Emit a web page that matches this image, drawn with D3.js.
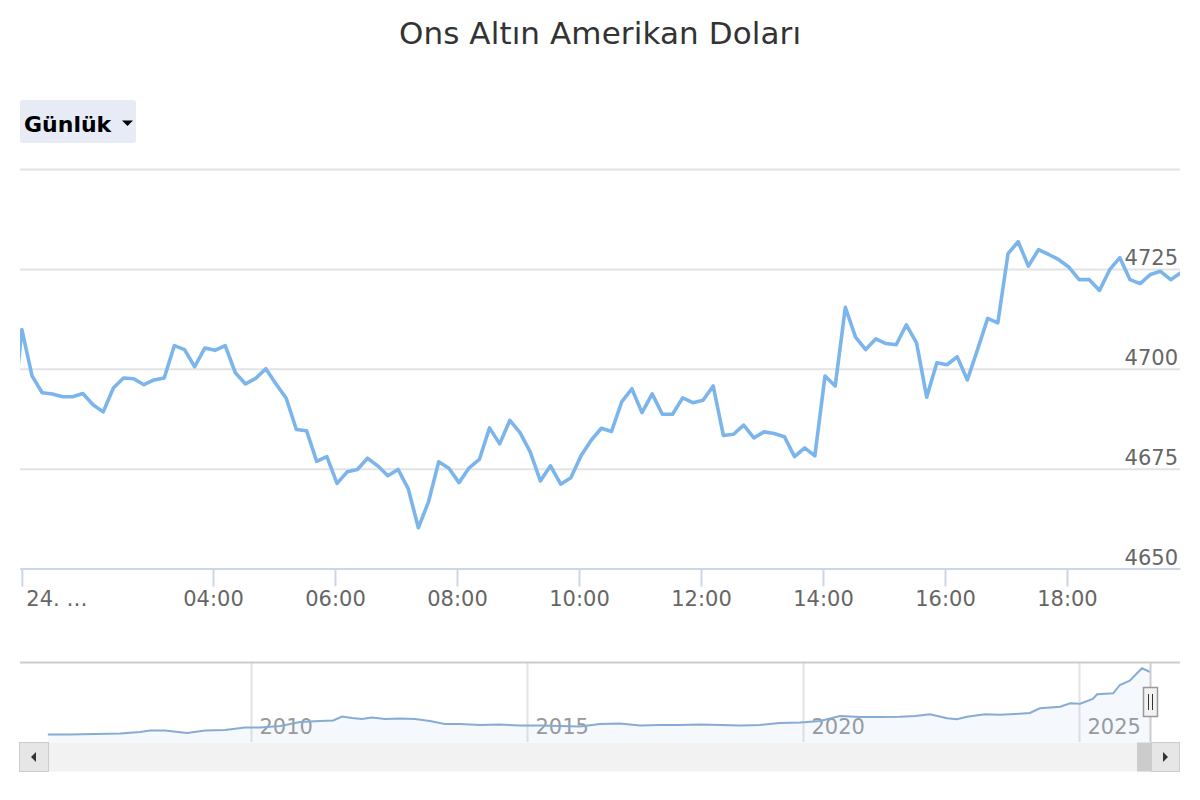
<!DOCTYPE html>
<html>
<head>
<meta charset="utf-8">
<script src="https://cdn.jsdelivr.net/npm/d3@7"></script>
<style>
  html, body { margin: 0; padding: 0; background: #ffffff; }
  svg { display: block; font-family: "DejaVu Sans", sans-serif; }
</style>
</head>
<body>
<svg id="chart" width="1200" height="800"></svg>
<script>
// ---------------- DATA ----------------
const chartTitle = "Ons Altın Amerikan Doları";
const rangeButtonLabel = "Günlük";

// Intraday prices, 10-minute steps (first value lies just left of the visible area)
const seriesStart = "2026-01-24T00:42:00";
const seriesStepMinutes = 10;
const priceValues = [
  4685.0,
  4709.8, 4698.2, 4694.0, 4693.7, 4693.0, 4693.0, 4693.8, 4691.0, 4689.2, 4695.2,
  4697.7, 4697.5, 4696.0, 4697.2, 4697.7, 4705.8, 4704.8, 4700.5, 4705.2, 4704.6,
  4705.8, 4699.0, 4696.2, 4697.6, 4700.0, 4696.2, 4692.6, 4684.8, 4684.5, 4676.8,
  4678.0, 4671.3, 4674.2, 4674.8, 4677.6, 4675.7, 4673.2, 4674.8, 4670.0, 4660.2,
  4666.7, 4676.7, 4675.1, 4671.5, 4675.2, 4677.3, 4685.2, 4681.2, 4687.1, 4684.0,
  4679.2, 4671.9, 4675.7, 4671.1, 4672.7, 4678.2, 4682.1, 4685.1, 4684.3, 4691.7,
  4695.0, 4689.0, 4693.7, 4688.6, 4688.6, 4692.7, 4691.5, 4692.1, 4695.7, 4683.3,
  4683.6, 4685.9, 4682.7, 4684.2, 4683.8, 4683.0, 4678.0, 4680.2, 4678.2, 4698.2,
  4695.7, 4715.4, 4707.9, 4704.8, 4707.5, 4706.3, 4706.0, 4711.0, 4706.5, 4692.9,
  4701.5, 4701.0, 4703.0, 4697.2, 4704.8, 4712.6, 4711.5, 4728.8, 4731.8, 4725.7,
  4729.8, 4728.6, 4727.3, 4725.4, 4722.3, 4722.3, 4719.6, 4724.8, 4727.8, 4722.3,
  4721.3, 4723.6, 4724.4, 4722.3, 4724.0
];

// y axis ticks (top one has no label)
const yTickValues = [4650, 4675, 4700, 4725, 4750];
const yTickLabels = ["4650", "4675", "4700", "4725", ""];

// x axis ticks
const xTickTimes = ["2026-01-24T00:52:00", "2026-01-24T04:00:00", "2026-01-24T06:00:00",
  "2026-01-24T08:00:00", "2026-01-24T10:00:00", "2026-01-24T12:00:00",
  "2026-01-24T14:00:00", "2026-01-24T16:00:00", "2026-01-24T18:00:00"];
const xTickLabels = ["24. …", "04:00", "06:00", "08:00", "10:00", "12:00", "14:00", "16:00", "18:00"];
const xDomainTimes = ["2026-01-24T00:50:10", "2026-01-24T19:51:10"];

// Navigator (long-term history)
const navYears = [2006.32, 2006.72, 2007.17, 2007.63, 2007.99, 2008.17, 2008.44, 2008.84, 2009.17, 2009.53,
  2009.89, 2010.16, 2010.53, 2010.89, 2011.25, 2011.49, 2011.65, 2011.83, 2012.01, 2012.19,
  2012.43, 2012.70, 2012.97, 2013.24, 2013.51, 2013.79, 2014.15, 2014.51, 2014.87, 2015.24,
  2015.60, 2015.96, 2016.32, 2016.68, 2017.05, 2017.41, 2017.77, 2018.13, 2018.50, 2018.86,
  2019.22, 2019.58, 2019.95, 2020.31, 2020.67, 2021.03, 2021.40, 2021.76, 2022.03, 2022.30,
  2022.61, 2022.79, 2022.97, 2023.30, 2023.57, 2023.84, 2024.11, 2024.29, 2024.66, 2024.84,
  2025.02, 2025.25, 2025.33, 2025.62, 2025.74, 2025.92, 2026.14, 2026.29];
const navPrices = [574, 574, 608, 642, 743, 845, 845, 676, 845, 878,
  1047, 1047, 1149, 1419, 1486, 1520, 1791, 1689, 1622, 1723,
  1622, 1655, 1622, 1486, 1284, 1284, 1216, 1250, 1182, 1182,
  1149, 1115, 1284, 1318, 1182, 1216, 1216, 1250, 1216, 1182,
  1216, 1351, 1385, 1486, 1824, 1757, 1757, 1777, 1824, 1939,
  1669, 1601, 1777, 1939, 1912, 1959, 2027, 2345, 2453, 2683,
  2656, 2973, 3291, 3358, 3919, 4210, 5047, 4797];
const navTickYears = [2010, 2015, 2020, 2025];

// ---------------- DRAW ----------------
const svg = d3.select("#chart");
const plot = { left: 20, right: 1180, top: 169, bottom: 568.5 };
const nav = { top: 662.5, bottom: 742, handleX: 1150.5 };

const parse = d3.isoParse;
const t0 = parse(seriesStart);
const points = priceValues.map((v, i) => ({ t: new Date(t0.getTime() + i * seriesStepMinutes * 60000), v }));

const x = d3.scaleTime().domain(xDomainTimes.map(parse)).range([plot.left, plot.right]);
const y = d3.scaleLinear().domain([4650, 4750]).range([plot.bottom, plot.top]);

// Title
svg.append("text")
  .attr("x", 600).attr("y", 44)
  .attr("text-anchor", "middle")
  .attr("fill", "#333333")
  .style("font-size", "31px")
  .style("letter-spacing", "0.1px")
  .text(chartTitle);

// Range button
const btn = svg.append("g");
btn.append("rect").attr("x", 20).attr("y", 100).attr("width", 116).attr("height", 43)
  .attr("rx", 3).attr("fill", "#e6ebf5");
btn.append("text").attr("x", 24).attr("y", 131.5)
  .attr("fill", "#000000").style("font-size", "22px").style("font-weight", "bold")
  .text(rangeButtonLabel);
btn.append("path").attr("d", "M122,120.5 L133,120.5 L127.5,126 Z").attr("fill", "#000000");

// Y gridlines + labels
const yAxisG = svg.append("g").attr("transform", `translate(${plot.left},0)`)
  .call(d3.axisLeft(y).tickValues(yTickValues).tickSize(-(plot.right - plot.left))
    .tickFormat((d, i) => yTickLabels[i]));
yAxisG.select(".domain").remove();
yAxisG.selectAll(".tick line").attr("stroke", "#e3e3e3").attr("stroke-width", 2);
yAxisG.selectAll(".tick text")
  .attr("x", 1158).attr("dy", null).attr("y", -4)
  .attr("text-anchor", "end").attr("fill", "#666666")
  .style("font-size", "21px").style("font-family", "DejaVu Sans, sans-serif");

// X axis
const xAxisG = svg.append("g").attr("transform", `translate(0,${plot.bottom})`)
  .call(d3.axisBottom(x).tickValues(xTickTimes.map(parse)).tickSize(18).tickSizeOuter(0)
    .tickFormat((d, i) => xTickLabels[i]));
xAxisG.select(".domain").attr("stroke", "#ccd6eb").attr("stroke-width", 2);
xAxisG.selectAll(".tick line").attr("stroke", "#ccd6eb").attr("stroke-width", 2);
xAxisG.selectAll(".tick text")
  .attr("y", 37.5).attr("dy", null).attr("fill", "#666666")
  .style("font-size", "21px").style("font-family", "DejaVu Sans, sans-serif");
xAxisG.selectAll(".tick text").filter((d, i) => i === 0)
  .attr("text-anchor", "start").attr("x", 4);

// Main line (clipped)
svg.append("clipPath").attr("id", "plotClip").append("rect")
  .attr("x", plot.left).attr("y", plot.top - 10)
  .attr("width", plot.right - plot.left).attr("height", plot.bottom - plot.top + 10);
svg.append("path")
  .datum(points)
  .attr("clip-path", "url(#plotClip)")
  .attr("fill", "none")
  .attr("stroke", "#7cb5ec")
  .attr("stroke-width", 3.6)
  .attr("stroke-linejoin", "round")
  .attr("d", d3.line().x(d => x(d.t)).y(d => y(d.v)));

// ---------------- NAVIGATOR ----------------
const nx = d3.scaleLinear().domain([2010, 2025]).range([251, 1079]);
const ny = d3.scaleLinear().domain([0, 5000]).range([743, 669]);
const navData = navYears.map((yr, i) => ({ yr, v: navPrices[i] }));

// vertical year gridlines + labels
const navAxisG = svg.append("g").attr("transform", `translate(0,${nav.bottom})`)
  .call(d3.axisTop(nx).tickValues(navTickYears).tickSize(nav.bottom - nav.top).tickFormat(d3.format("d")));
navAxisG.select(".domain").remove();
navAxisG.selectAll(".tick line").attr("stroke", "#e3e3e3").attr("stroke-width", 2);

// area + line
svg.append("path").datum(navData)
  .attr("fill", "#7cb5ec").attr("fill-opacity", 0.08)
  .attr("d", d3.area().x(d => nx(d.yr)).y0(nav.bottom).y1(d => ny(d.v)));
svg.append("path").datum(navData)
  .attr("fill", "none").attr("stroke", "#86acd4").attr("stroke-width", 2)
  .attr("d", d3.line().x(d => nx(d.yr)).y(d => ny(d.v)));

navAxisG.selectAll(".tick text")
  .attr("y", -8).attr("dy", null).attr("x", 8)
  .attr("text-anchor", "start").attr("fill", "#999999")
  .style("font-size", "21px").style("font-family", "DejaVu Sans, sans-serif");

// outline
svg.append("path")
  .attr("d", `M${plot.left},${nav.top} L${nav.handleX},${nav.top} L${nav.handleX},${nav.bottom} M${nav.handleX},${nav.top} L${plot.right},${nav.top}`)
  .attr("fill", "none").attr("stroke", "#cccccc").attr("stroke-width", 2);

// handle
const hg = svg.append("g");
hg.append("rect").attr("x", 1143.5).attr("y", 687.5).attr("width", 14).attr("height", 29)
  .attr("fill", "#f2f2f2").attr("stroke", "#999999").attr("stroke-width", 1.5);
hg.append("path").attr("d", "M1148.5,694 L1148.5,710 M1152.5,694 L1152.5,710")
  .attr("stroke", "#333333").attr("stroke-width", 1);

// scrollbar
svg.append("rect").attr("x", 20).attr("y", 742.5).attr("width", 1160).attr("height", 29)
  .attr("fill", "#f2f2f2");
svg.append("rect").attr("x", 1137).attr("y", 742.5).attr("width", 15).attr("height", 29)
  .attr("fill", "#cccccc");
svg.append("rect").attr("x", 19.5).attr("y", 742.5).attr("width", 29).attr("height", 29)
  .attr("fill", "#e6e6e6").attr("stroke", "#cccccc").attr("stroke-width", 1);
svg.append("rect").attr("x", 1151.5).attr("y", 742.5).attr("width", 28).attr("height", 29)
  .attr("fill", "#e6e6e6").attr("stroke", "#cccccc").attr("stroke-width", 1);
svg.append("path").attr("d", "M31,757 L36,752 L36,762 Z").attr("fill", "#333333");
svg.append("path").attr("d", "M1168,757 L1163,752 L1163,762 Z").attr("fill", "#333333");
</script>
</body>
</html>
